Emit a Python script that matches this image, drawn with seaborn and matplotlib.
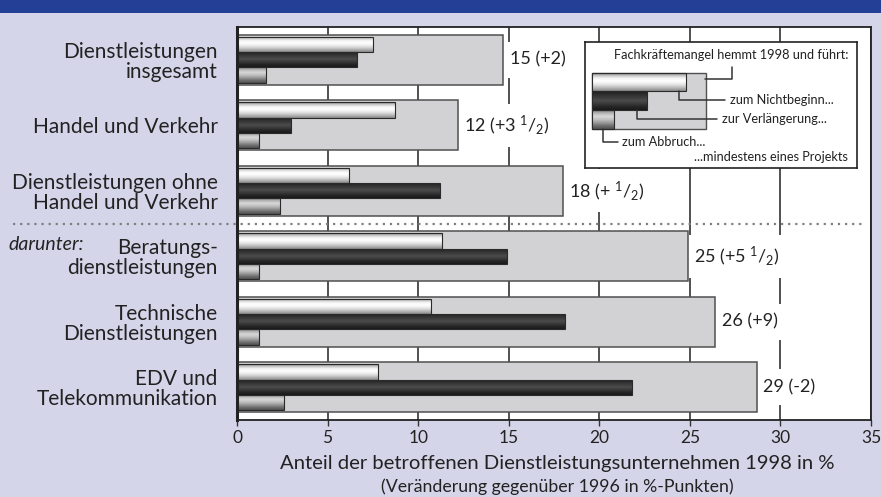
import matplotlib
matplotlib.use('Agg')
import matplotlib.pyplot as plt
import matplotlib.transforms as mtransforms
from matplotlib.colors import LinearSegmentedColormap, to_hex
from matplotlib.patches import Rectangle
import numpy as np
import pandas as pd
import seaborn as sns

# Daten
kategorien = ['Dienstleistungen\ninsgesamt', 'Handel und Verkehr',
              'Dienstleistungen ohne\nHandel und Verkehr', 'Beratungs-\ndienstleistungen',
              'Technische\nDienstleistungen', 'EDV und\nTelekommunikation']
gesamt = [14.7, 12.2, 18.0, 24.9, 26.4, 28.7]
nichtbeginn = [7.5, 8.7, 6.2, 11.3, 10.7, 7.8]
verlaengerung = [6.6, 3.0, 11.2, 14.9, 18.1, 21.8]
abbruch = [1.6, 1.2, 2.4, 1.2, 1.2, 2.6]
gesamt_labels = ['15 (+2)', r'12 (+3 $^{1}/_{2}$)', r'18 (+ $^{1}/_{2}$)',
                 r'25 (+5 $^{1}/_{2}$)', '26 (+9)', '29 (-2)']
arten = ['zum Nichtbeginn', 'zur Verlängerung', 'zum Abbruch']
x_ticks = [0, 5, 10, 15, 20, 25, 30, 35]

BG = '#d5d5ea'
BLUE = '#233f96'
palette = {'zum Nichtbeginn': '#f0f0f0', 'zur Verlängerung': '#333333', 'zum Abbruch': '#999999'}
verlauf = {
    '#f0f0f0': ['#7a7a7a', '#c8c8c8', '#f4f4f4', '#ffffff', '#f0f0f0', '#d4d4d4', '#b0b0b0', '#8a8a8a'],
    '#333333': ['#1e1e1e', '#2e2e2e', '#3c3c3c', '#4c4c4c', '#3a3a3a', '#262626', '#1a1a1a'],
    '#999999': ['#7a7a7a', '#b8b8b8', '#d8d8d8', '#c0c0c0', '#9a9a9a', '#707070', '#505050'],
}

sns.set_theme(style='white')
plt.rcParams['font.family'] = ['Lato', 'DejaVu Sans']
plt.rcParams['mathtext.default'] = 'regular'
plt.rcParams['text.color'] = '#222222'


def shade(ax, patch, farben):
    """Balken mit vertikalem Farbverlauf füllen"""
    x0, y0 = patch.get_x(), patch.get_y()
    w, h = patch.get_width(), patch.get_height()
    cmap = LinearSegmentedColormap.from_list('v', farben)
    grad = np.linspace(0, 1, 64).reshape(-1, 1)
    # y-Achse ist invertiert: y0 ist oben
    im = ax.imshow(grad, cmap=cmap, aspect='auto', extent=(x0, x0 + w, y0 + h, y0),
                   origin='upper', zorder=patch.get_zorder() - 0.01, interpolation='bilinear')
    im.set_clip_path(patch)
    patch.set_facecolor('none')


fig = plt.figure(figsize=(8.81, 4.97), dpi=100, facecolor=BG)
fig.patches.append(Rectangle((0, 1 - 13 / 497), 1, 13 / 497, transform=fig.transFigure,
                             facecolor=BLUE, edgecolor='none', zorder=0))

ax = fig.add_axes([237 / 881, 1 - 420 / 497, 634 / 881, 393 / 497])
ax.set_facecolor('white')

# Gesamtbalken
sns.barplot(x=gesamt, y=kategorien, orient='h', order=kategorien, color='#d2d2d4',
            width=0.76, edgecolor='#505050', linewidth=1.1, ax=ax)
n_gesamt = len(ax.patches)

# Einzelbalken
df = pd.DataFrame({
    'Kategorie': kategorien * 3,
    'Anteil': nichtbeginn + verlaengerung + abbruch,
    'Art': [a for a in arten for _ in kategorien],
})
sns.barplot(data=df, x='Anteil', y='Kategorie', hue='Art', order=kategorien, hue_order=arten,
            orient='h', width=0.7, palette=palette, edgecolor='#2a2a2a', linewidth=0.8,
            errorbar=None, legend=False, ax=ax)

for p in list(ax.patches[n_gesamt:]):
    p.set_zorder(2)
    farbe = to_hex(p.get_facecolor())
    if farbe in verlauf:
        shade(ax, p, verlauf[farbe])

# Beschriftungen rechts der Balken
for i, (wert, txt) in enumerate(zip(gesamt, gesamt_labels)):
    ax.text(wert + 0.35, i, txt, va='center', ha='left', fontsize=13, zorder=0.8,
            bbox=dict(facecolor='white', edgecolor='none', pad=7))

ax.set_xlim(0, 35)
ax.set_ylim(5.5, -0.5)
ax.set_xticks(x_ticks)
ax.set_xticklabels([str(t) for t in x_ticks])
ax.grid(axis='x', color='#333333', linewidth=1.2)
ax.grid(axis='y', visible=False)
ax.set_axisbelow(True)
ax.set_xlabel('')
ax.set_ylabel('')
ax.tick_params(axis='y', length=0, pad=14, labelsize=15, labelcolor='#222222')
for t in ax.get_yticklabels():
    t.set_linespacing(1.0)
ax.tick_params(axis='x', length=4, width=1, color='#333333', pad=3, labelsize=12.5,
               labelcolor='#222222', bottom=True)
for s in ax.spines.values():
    s.set_color('#222222')
    s.set_linewidth(1.3)
ax.spines['left'].set_linewidth(2.2)

# gepunktete Trennlinie
trans = mtransforms.blended_transform_factory(fig.transFigure, ax.transData)
ax.plot([13 / 881, 866 / 881], [2.5, 2.5], transform=trans, color='#808080',
        linestyle=(0, (1, 2.2)), linewidth=1.6, clip_on=False, zorder=5)
ax.text(8 / 881, 2.82, 'darunter:', transform=trans, ha='left', va='center',
        fontsize=14, style='italic')

# Achsentitel
fig.text(557 / 881, 1 - 463 / 497, 'Anteil der betroffenen Dienstleistungsunternehmen 1998 in %',
         ha='center', va='center', fontsize=14.6)
fig.text(557 / 881, 1 - 487 / 497, '(Veränderung gegenüber 1996 in %-Punkten)',
         ha='center', va='center', fontsize=12.8)

# Legende als kleine Skizze
lg = fig.add_axes([585 / 881, 1 - 168 / 497, 272 / 881, 126 / 497])
lg.set_xticks([])
lg.set_yticks([])
lg.set_facecolor('white')
for s in lg.spines.values():
    s.set_color('#222222')
    s.set_linewidth(1.2)
box = Rectangle((7, 31), 114, 56, facecolor='#d2d2d4', edgecolor='#505050', linewidth=1)
lg.add_patch(box)
for (bx, by, bw, bh), farbe in zip([(7, 31, 94, 18), (7, 49, 55, 19), (7, 68, 22, 19)],
                                   ['#f0f0f0', '#333333', '#999999']):
    r = Rectangle((bx, by), bw, bh, facecolor=farbe, edgecolor='#2a2a2a', linewidth=0.8, zorder=2)
    lg.add_patch(r)
    cmap = LinearSegmentedColormap.from_list('v', verlauf[farbe])
    im = lg.imshow(np.linspace(0, 1, 64).reshape(-1, 1), cmap=cmap, aspect='auto',
                   extent=(bx, bx + bw, by + bh, by), zorder=1.9, interpolation='bilinear')
    im.set_clip_path(r)
    r.set_facecolor('none')
lg.set_xlim(0, 272)
lg.set_ylim(126, 0)

linie = dict(color='#333333', linewidth=1.1)
lg.plot([147, 147, 120], [25, 37, 37], **linie)
lg.plot([94, 94, 140], [49, 58, 58], **linie)
lg.plot([52, 52, 132], [68, 77, 77], **linie)
lg.plot([18, 18, 33], [87, 100, 100], **linie)
fs = 9.2
lg.text(263, 13, 'Fachkräftemangel hemmt 1998 und führt:', ha='right', va='center', fontsize=fs)
lg.text(145, 58, 'zum Nichtbeginn...', ha='left', va='center', fontsize=fs)
lg.text(137, 77, 'zur Verlängerung...', ha='left', va='center', fontsize=fs)
lg.text(37, 100, 'zum Abbruch...', ha='left', va='center', fontsize=fs)
lg.text(263, 115, '...mindestens eines Projekts', ha='right', va='center', fontsize=fs)

plt.savefig('out.png', dpi=100, facecolor=BG)
plt.close()
